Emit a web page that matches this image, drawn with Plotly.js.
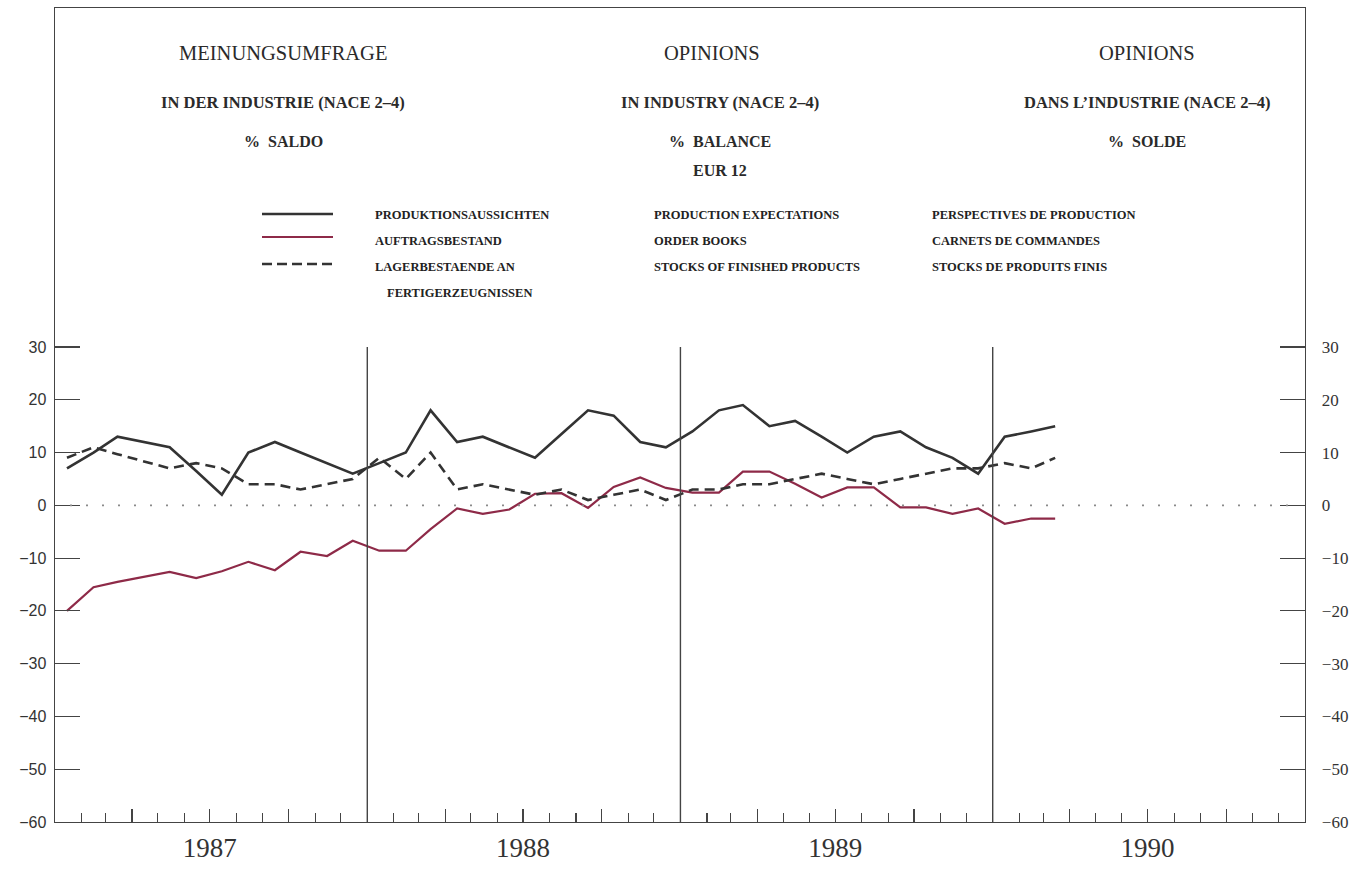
<!DOCTYPE html>
<html><head><meta charset="utf-8">
<script src="https://cdn.plot.ly/plotly-3.0.1.min.js"></script>
<style>html,body{margin:0;padding:0;background:#fff;} #chart{width:1369px;height:890px;}</style>
</head><body><div id="chart"></div>
<script>
// ---- data (monthly, Jan 1987 - Mar 1990) ----
const startYear = 1987;
const productionExpectations = [7, 10, 13, 12, 11, 6.5, 2, 10, 12, 10, 8, 6,
  8, 10, 18, 12, 13, 11, 9, 13.5, 18, 17, 12, 11,
  14, 18, 19, 15, 16, 13, 10, 13, 14, 11, 9, 6,
  13, 14, 15];
const orderBooks = [-20, -15.5, -14.5, -13.5, -12.6, -13.8, -12.5, -10.7, -12.3, -8.8, -9.6, -6.7,
  -8.6, -8.6, -4.5, -0.6, -1.6, -0.8, 2.2, 2.3, -0.5, 3.5, 5.3, 3.3,
  2.4, 2.4, 6.4, 6.4, 4.1, 1.5, 3.4, 3.4, -0.4, -0.4, -1.6, -0.6,
  -3.5, -2.5, -2.5];
const stocksFinished = [9, 11, 9.7, 8.3, 7, 8, 7, 4, 4, 3, 4, 5,
  9, 5, 10, 3, 4, 3, 2, 3, 1, 2, 3, 1,
  3, 3, 4, 4, 5, 6, 5, 4, 5, 6, 7, 7,
  8, 7, 9];
const yearLabels = ['1987', '1988', '1989', '1990'];
const yTickVals = [30, 20, 10, 0, -10, -20, -30, -40, -50, -60];
const yTickText = ['30', '20', '10', '0', '\u221210', '\u221220', '\u221230', '\u221240', '\u221250', '\u221260'];

const titleCols = [
  ['MEINUNGSUMFRAGE', 'IN DER INDUSTRIE (NACE 2\u20134)', '%  SALDO', ''],
  ['OPINIONS', 'IN INDUSTRY (NACE 2\u20134)', '%  BALANCE', 'EUR 12'],
  ['OPINIONS', 'DANS L\u2019INDUSTRIE (NACE 2\u20134)', '%  SOLDE', '']
];
const legendCols = [
  ['PRODUKTIONSAUSSICHTEN', 'AUFTRAGSBESTAND', 'LAGERBESTAENDE AN', '  FERTIGERZEUGNISSEN'],
  ['PRODUCTION EXPECTATIONS', 'ORDER BOOKS', 'STOCKS OF FINISHED PRODUCTS', ''],
  ['PERSPECTIVES DE PRODUCTION', 'CARNETS DE COMMANDES', 'STOCKS DE PRODUITS FINIS', '']
];

// ---- helpers ----
const pad = n => String(n).padStart(2, '0');
const monthDates = productionExpectations.map((_, i) => {
  const y = startYear + Math.floor(i / 12), m = i % 12 + 1;
  return y + '-' + pad(m) + '-15';
});
const L = 55, R = 1305, T = 8, B = 822;
const px = v => (v - L) / (R - L);
const py = v => (B - v) / (B - T);

const darkCol = '#333333', redCol = '#8e2a48';
const traces = [
  {x: monthDates, y: productionExpectations, type: 'scatter', mode: 'lines', name: 'PRODUKTIONSAUSSICHTEN',
   line: {color: darkCol, width: 2.6}},
  {x: monthDates, y: orderBooks, type: 'scatter', mode: 'lines', name: 'AUFTRAGSBESTAND',
   line: {color: redCol, width: 2.2}},
  {x: monthDates, y: stocksFinished, type: 'scatter', mode: 'lines', name: 'LAGERBESTAENDE AN FERTIGERZEUGNISSEN',
   line: {color: darkCol, width: 2.6, dash: '10px,6px'}},
  {x: [monthDates[0]], y: [null], yaxis: 'y2', type: 'scatter', mode: 'lines', showlegend: false, hoverinfo: 'skip'}
];

// quarter ticks (major) with year labels at mid-year
const qTickVals = [], qTickText = [];
yearLabels.forEach(y => {
  ['04', '07', '10'].forEach(m => {
    qTickVals.push(y + '-' + m + '-01');
    qTickText.push(m === '07' ? y : '');
  });
});

const shapes = [];
// year separators
yearLabels.slice(1).forEach(y => {
  shapes.push({type: 'line', xref: 'x', yref: 'y', x0: y + '-01-01', x1: y + '-01-01', y0: -60, y1: 30,
    line: {color: '#444', width: 1.4}});
});
// dotted zero line
shapes.push({type: 'line', xref: 'paper', yref: 'y', x0: 0.012, x1: 0.99, y0: 0, y1: 0,
  line: {color: '#8a8a8a', width: 1.6, dash: '2px,14px'}});
// legend samples
const legendY = [214, 237, 264];
const legendStyles = [
  {color: darkCol, width: 2.6},
  {color: redCol, width: 2.2},
  {color: darkCol, width: 2.6, dash: '10px,5px'}
];
legendY.forEach((yy, i) => {
  shapes.push({type: 'line', xref: 'paper', yref: 'paper', x0: px(262), x1: px(333), y0: py(yy), y1: py(yy),
    line: legendStyles[i]});
});

const annotations = [];
const colX = [283, 720, 1147];
const rowY = [53, 102, 141, 171];
const rowFont = [
  {family: 'Liberation Serif', size: 20.5, color: '#2a2a2a'},
  {family: 'Liberation Serif', size: 16.5, color: '#2a2a2a', weight: 'bold'},
  {family: 'Liberation Serif', size: 16, color: '#2a2a2a', weight: 'bold'},
  {family: 'Liberation Serif', size: 16, color: '#2a2a2a', weight: 'bold'}
];
titleCols.forEach((col, ci) => {
  col.forEach((t, ri) => {
    if (!t) return;
    const cx = (ci === 1 && ri === 0) ? colX[ci] - 8 : colX[ci];
    annotations.push({text: t, xref: 'paper', yref: 'paper', x: px(cx), y: py(rowY[ri]),
      xanchor: 'center', yanchor: 'middle', showarrow: false, font: rowFont[ri]});
  });
});
const legColX = [373, 652, 930];
const legRowY = [215, 241, 267, 293];
legendCols.forEach((col, ci) => {
  col.forEach((t, ri) => {
    if (!t) return;
    const indent = t.startsWith('  ') ? 12 : 0;
    annotations.push({text: t.trim(), xref: 'paper', yref: 'paper', x: px(legColX[ci] + indent), y: py(legRowY[ri]),
      xanchor: 'left', yanchor: 'middle', showarrow: false,
      font: {family: 'Liberation Serif', size: 12.5, color: '#222', weight: 'bold'}});
  });
});

const layout = {
  width: 1369, height: 890,
  margin: {l: L, r: 1369 - R, t: T, b: 890 - B},
  paper_bgcolor: '#ffffff', plot_bgcolor: '#ffffff',
  showlegend: false,
  xaxis: {
    type: 'date', range: ['1987-01-01', '1991-01-01'],
    showgrid: false, zeroline: false,
    showline: true, linecolor: '#444', linewidth: 1.4, mirror: true,
    tickmode: 'array', tickvals: qTickVals, ticktext: qTickText,
    ticks: 'inside', ticklen: 13, tickwidth: 1.1, tickcolor: '#444',
    ticklabelstandoff: 1,
    tickfont: {family: 'Liberation Serif', size: 27, color: '#333'},
    minor: {dtick: 'M1', tick0: '1987-01-01', ticks: 'inside', ticklen: 9, tickwidth: 1.1, tickcolor: '#444', showgrid: false}
  },
  yaxis: {
    range: [-60, 30 + (347 - T) / ((B - 347) / 90)],
    showgrid: false, zeroline: false,
    showline: true, linecolor: '#444', linewidth: 1.4, mirror: true,
    tickmode: 'array', tickvals: yTickVals, ticktext: yTickText,
    ticks: 'inside', ticklen: 25, tickwidth: 1.2, tickcolor: '#444',
    ticklabelstandoff: 4,
    tickfont: {family: 'Liberation Sans', size: 16, color: '#333'}
  },
  yaxis2: {
    overlaying: 'y', side: 'right', anchor: 'x',
    range: [-60, 30 + (347 - T) / ((B - 347) / 90)],
    showgrid: false, zeroline: false,
    showline: true, linecolor: '#444', linewidth: 1.4,
    tickmode: 'array', tickvals: yTickVals, ticktext: yTickText,
    ticks: 'inside', ticklen: 25, tickwidth: 1.2, tickcolor: '#444',
    ticklabelstandoff: 12,
    tickfont: {family: 'Liberation Serif', size: 17, color: '#333'}
  },
  shapes: shapes,
  annotations: annotations
};

Plotly.newPlot('chart', traces, layout, {displayModeBar: false, staticPlot: true});
</script>
</body></html>
